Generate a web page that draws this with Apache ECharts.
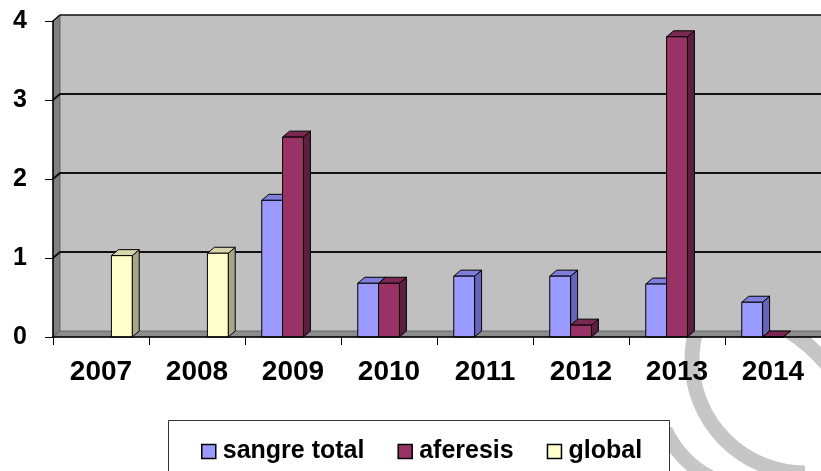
<!DOCTYPE html>
<html>
<head>
<meta charset="utf-8">
<script src="https://cdn.jsdelivr.net/npm/echarts@6/dist/echarts.min.js"></script>
<style>html,body{margin:0;padding:0;background:#fff}#c{width:821px;height:471px}</style>
</head>
<body>
<div id="c"></div>
<script>
const categories = ['2007','2008','2009','2010','2011','2012','2013','2014'];
const sangreTotal = [null, null, 1.73, 0.68, 0.77, 0.77, 0.67, 0.44];
const aferesis = [null, null, 2.53, 0.68, null, 0.15, 3.80, 0];
const globalVals = [1.03, 1.06, null, null, null, null, null, null];
const seriesNames = ['sangre total', 'aferesis', 'global'];
const yTicks = [0, 1, 2, 3, 4];

const DX = 7, DY = 6;
const FONT = '"Liberation Sans", Arial, sans-serif';

const palette = [
  {front: '#9999FF', side: '#6666B8', top: '#7F7FDB'},
  {front: '#993366', side: '#5C1F3D', top: '#7A2952'},
  {front: '#FFFFCC', side: '#A6A688', top: '#D6D6AA'}
];

function toData(arr) {
  const out = [];
  arr.forEach((v, i) => { if (v !== null && v !== undefined) out.push([i, v]); });
  return out;
}

function barRenderer(si) {
  return function (params, api) {
    const cat = api.value(0), v = api.value(1);
    const top = api.coord([cat, v]);
    const base = api.coord([cat, 0]);
    const band = api.size([1, 0])[0];
    const bw = band * 0.217;
    const x0 = top[0] - 1.5 * bw + si * bw;
    const x1 = x0 + bw;
    const yt = top[1], yb = base[1];
    const c = palette[si];
    const st = {stroke: '#000', lineWidth: 1};
    return {
      type: 'group',
      children: [
        {type: 'polygon', shape: {points: [[x1, yb], [x1 + DX, yb - DY], [x1 + DX, yt - DY], [x1, yt]]},
         style: Object.assign({fill: c.side}, st)},
        {type: 'polygon', shape: {points: [[x0, yt], [x0 + DX, yt - DY], [x1 + DX, yt - DY], [x1, yt]]},
         style: Object.assign({fill: c.top}, st)},
        {type: 'rect', shape: {x: x0, y: yt, width: bw, height: yb - yt},
         style: Object.assign({fill: c.front}, st)}
      ]
    };
  };
}

function wallRenderer(params, api) {
  const cs = params.coordSys;
  const gx = cs.x, gw = cs.width;
  const y0 = api.coord([0, 0])[1];
  const y4 = api.coord([0, 4])[1];
  const children = [
    {type: 'rect', shape: {x: gx + DX, y: y4 - DY, width: gw + 20, height: y0 - y4},
     style: {fill: '#C0C0C0'}},
    {type: 'polygon', shape: {points: [[gx, y4], [gx + DX, y4 - DY], [gx + DX, y0 - DY], [gx, y0]]},
     style: {fill: '#808080', stroke: '#555', lineWidth: 0.8}},
    {type: 'polygon', shape: {points: [[gx, y0], [gx + DX, y0 - DY], [gx + gw + DX, y0 - DY], [gx + gw, y0]]},
     style: {fill: '#8C8C8C', stroke: '#555', lineWidth: 0.8}}
  ];
  yTicks.forEach(t => {
    if (t === 0) return;
    const y = api.coord([0, t])[1];
    children.push({type: 'polyline', shape: {points: [[gx, y], [gx + DX, y - DY], [gx + gw + DX + 20, y - DY]]},
      style: {stroke: '#111', lineWidth: t === 4 ? 1.5 : 2, fill: null}});
  });
  return {type: 'group', children: children};
}

const chart = echarts.init(document.getElementById('c'), null, {renderer: 'canvas'});
const seriesData = [sangreTotal, aferesis, globalVals];

const option = {
  animation: false,
  backgroundColor: '#ffffff',
  graphic: [
    {type: 'arc', z: 0.5, silent: true,
     shape: {cx: 805, cy: 360, r: 113, startAngle: Math.PI / 2, endAngle: Math.PI + 0.6, clockwise: true},
     style: {stroke: '#C6C6C6', lineWidth: 15, fill: null}},
    {type: 'arc', z: 0.5, silent: true,
     shape: {cx: 700, cy: 470, r: 165, startAngle: -1.0, endAngle: -0.5, clockwise: true},
     style: {stroke: '#C6C6C6', lineWidth: 15, fill: null}},
    {type: 'arc', z: 0.5, silent: true,
     shape: {cx: 760, cy: 385, r: 105, startAngle: 2.0, endAngle: 2.7, clockwise: true},
     style: {stroke: '#C6C6C6', lineWidth: 15, fill: null}},
    {type: 'rect', z: 5, silent: true,
     shape: {x: 168.5, y: 420.5, width: 501, height: 70},
     style: {fill: '#fff', stroke: '#333', lineWidth: 1}}
  ],
  grid: {left: 53, right: 0, top: 21, bottom: 134, containLabel: false},
  legend: {
    show: true,
    left: 196, top: 434,
    z: 10,
    data: seriesNames,
    icon: 'rect',
    itemWidth: 14, itemHeight: 14,
    itemGap: 33,
    itemStyle: {borderColor: '#000', borderWidth: 1.5},
    textStyle: {fontFamily: FONT, fontWeight: 'bold', fontSize: 25, color: '#000', padding: [0, 0, 0, 2]}
  },
  xAxis: {
    type: 'category',
    data: categories,
    z: 10,
    axisLine: {show: true, lineStyle: {color: '#000', width: 1.5}},
    axisTick: {show: true, length: 8, lineStyle: {color: '#000', width: 1}},
    axisLabel: {fontFamily: FONT, fontWeight: 'bold', fontSize: 28, color: '#000', margin: 21},
    splitLine: {show: false}
  },
  yAxis: {
    type: 'value',
    min: 0, max: 4, interval: 1,
    z: 10,
    axisLine: {show: true, lineStyle: {color: '#000', width: 1.5}},
    axisTick: {show: true, length: 8, lineStyle: {color: '#000', width: 1}},
    axisLabel: {fontFamily: FONT, fontWeight: 'bold', fontSize: 25, color: '#000', margin: 26},
    splitLine: {show: false}
  },
  series: [
    {type: 'custom', name: '_walls', z: 1, silent: true, renderItem: wallRenderer, data: [[0, 0]],
     encode: {x: 0, y: 1}, legendHoverLink: false}
  ].concat(seriesNames.map((name, si) => ({
    type: 'custom',
    name: name,
    z: 3 + si,
    renderItem: barRenderer(si),
    data: toData(seriesData[si]),
    encode: {x: 0, y: 1},
    itemStyle: {color: palette[si].front, borderColor: '#000', borderWidth: 1.5}
  })))
};
chart.setOption(option);
</script>
</body>
</html>
